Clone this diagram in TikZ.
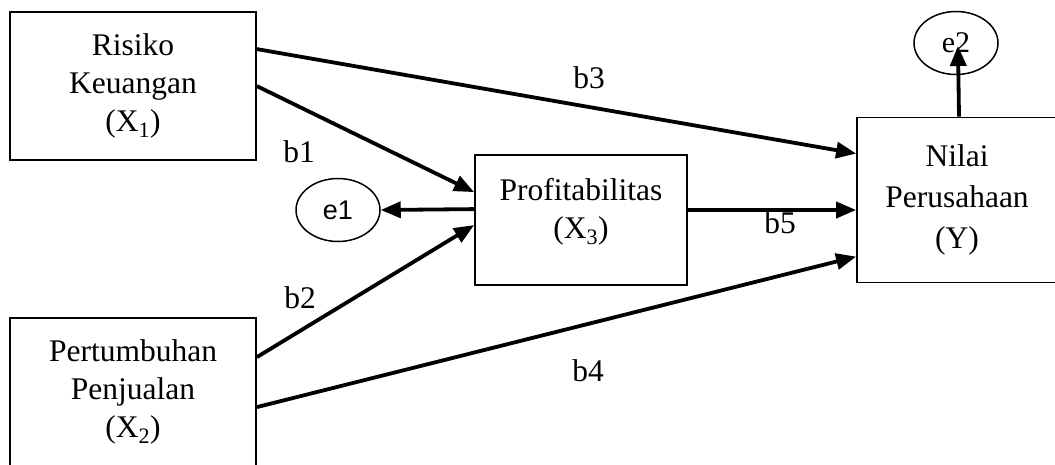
\documentclass[tikz,border=0pt]{standalone}
\usepackage{fontspec}
\setmainfont{Liberation Serif}
\newfontfamily\sansf{Liberation Sans}
\usetikzlibrary{arrows.meta,shapes.geometric}
\begin{document}
\begin{tikzpicture}[x=1pt,y=-1pt,
  box/.style={draw,line width=1.8pt,inner sep=0pt},
  txt/.style={align=center,inner sep=0pt,font=\fontsize{31.5}{38}\selectfont},
  lbl/.style={inner sep=0pt,font=\fontsize{31.5}{38}\selectfont},
  err/.style={draw,ellipse,line width=1.5pt,minimum width=84pt,minimum height=63pt,inner sep=0pt},
  arr/.style={line width=3.8pt,-{Triangle[length=20pt,width=16pt]}}]
\useasboundingbox (0,0) rectangle (1055,464);
\clip (0,0) rectangle (1055,464);
\node[box,minimum width=246pt,minimum height=148pt,txt] (x1) at (133,86) {Risiko\\Keuangan\\(X\textsubscript{1})};
\node[box,minimum width=246pt,minimum height=148pt,txt] (x2) at (133,392) {Pertumbuhan\\Penjualan\\(X\textsubscript{2})};
\node[box,minimum width=212pt,minimum height=130pt] (x3) at (581,220) {};
\node[txt] (x3t) at (581,212) {Profitabilitas\\(X\textsubscript{3})};
\node[box,minimum width=200pt,minimum height=165pt,txt,font=\fontsize{31.5}{41}\selectfont] (y) at (957,200) {Nilai\\Perusahaan\\(Y)};
\node[err,font=\sansf\fontsize{27}{30}\selectfont] (e1) at (338,210) {e1};
\node[err,font=\fontsize{30}{32}\selectfont] (e2) at (956,43) {e2};
\draw[arr] ([yshift=-38pt]x1.north east) -- ([yshift=-37pt]y.north west);
\draw[arr] ([yshift=-75pt]x1.north east) -- ([yshift=-38pt]x3.north west);
\draw[arr] ([yshift=-55pt]x3.north west) -- (e1.east);
\draw[arr] ([yshift=-40pt]x2.north east) -- ([yshift=-71pt]x3.north west);
\draw[arr] ([yshift=-90pt]x2.north east) -- ([yshift=-140pt]y.north west);
\draw[arr] (x3.east |- e1.east) -- (y.west |- e1.east);
\draw[arr] ([xshift=2pt]y.north) -- ([xshift=2pt,yshift=-3pt]e2.center);
\node[lbl] (b3) at (589,78) {b3};
\node[lbl] (b1) at (299,152) {b1};
\node[lbl] (b2) at (300,298) {b2};
\node[lbl] (b5) at (780,223) {b5};
\node[lbl] (b4) at (588,371) {b4};
\end{tikzpicture}
\end{document}
